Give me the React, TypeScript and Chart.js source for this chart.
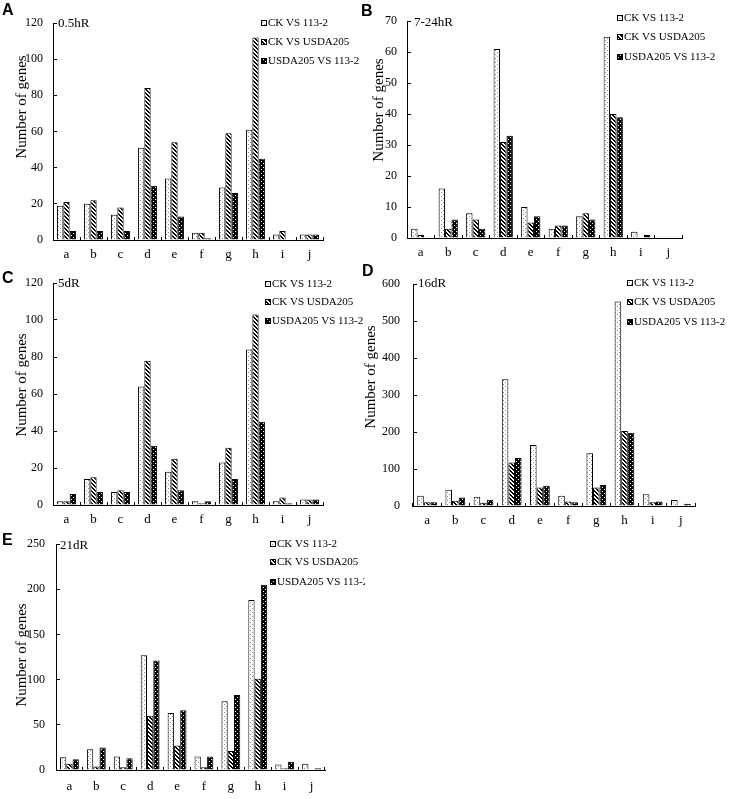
import React, { useEffect, useRef } from "react";
import { Chart, registerables } from "chart.js";
Chart.register(...registerables);

const categories = ["a", "b", "c", "d", "e", "f", "g", "h", "i", "j"];
const seriesNames = ["CK VS 113-2", "CK VS USDA205", "USDA205 VS 113-2"];

// A: 0.5hR
const h05_ck113 = [19, 20, 14, 51, 34, 4, 29, 61, 3, 3];
const h05_ckUsda = [21, 22, 18, 84, 54, 4, 59, 112, 5, 3];
const h05_usda113 = [5, 5, 5, 30, 13, 1, 26, 45, 0, 3];
// B: 7-24hR
const h724_ck113 = [3, 16, 8, 61, 10, 3, 7, 65, 2, 0];
const h724_ckUsda = [1, 3, 6, 31, 5, 4, 8, 40, 0, 0];
const h724_usda113 = [0, 6, 3, 33, 7, 4, 6, 39, 1, 0];
// C: 5dR
const d5_ck113 = [2, 14, 7, 64, 18, 2, 23, 84, 2, 3];
const d5_ckUsda = [2, 15, 8, 78, 25, 1, 31, 103, 4, 3];
const d5_usda113 = [6, 7, 7, 32, 8, 2, 14, 45, 1, 3];
// D: 16dR
const d16_ck113 = [28, 44, 25, 343, 165, 28, 143, 553, 32, 16];
const d16_ckUsda = [10, 14, 9, 118, 50, 12, 50, 203, 10, 0];
const d16_usda113 = [10, 23, 17, 130, 55, 10, 57, 198, 12, 6];
// E: 21dR
const d21_ck113 = [14, 23, 15, 127, 63, 15, 76, 188, 6, 7];
const d21_ckUsda = [7, 4, 3, 60, 27, 3, 21, 101, 2, 0];
const d21_usda113 = [12, 25, 13, 121, 66, 15, 83, 205, 9, 2];

const panelLetters = ["A", "B", "C", "D", "E"];
const panelSubtitles = ["0.5hR", "7-24hR", "5dR", "16dR", "21dR"];
const yMaxes = [120, 70, 120, 600, 250];
const ySteps = [20, 10, 20, 100, 50];
const yTitle = "Number of genes";

const SERIF = '"Liberation Serif", "Times New Roman", serif';

function makePattern(kind: number): CanvasPattern | string {
  const c = document.createElement("canvas");
  c.width = 4;
  c.height = 4;
  const g = c.getContext("2d");
  if (!g) return "#fff";
  if (kind === 0) {
    g.fillStyle = "#ffffff";
    g.fillRect(0, 0, 4, 4);
    g.fillStyle = "#8a8a8a";
    g.fillRect(0, 0, 1, 1);
    g.fillRect(2, 2, 1, 1);
  } else if (kind === 1) {
    g.fillStyle = "#ffffff";
    g.fillRect(0, 0, 4, 4);
    g.fillStyle = "#000000";
    for (let y = 0; y < 4; y++) {
      for (let x = 0; x < 4; x++) {
        const d = (((x - y) % 4) + 4) % 4;
        if (d === 0 || d === 1) g.fillRect(x, y, 1, 1);
      }
    }
  } else {
    g.fillStyle = "#000000";
    g.fillRect(0, 0, 4, 4);
    g.fillStyle = "#ffffff";
    g.fillRect(1, 1, 1, 1);
    g.fillRect(3, 3, 1, 1);
  }
  const p = g.createPattern(c, "repeat");
  return p || "#fff";
}

type PanelCfg = {
  idx: number;
  series: number[][];
  x: number;
  y: number;
  w: number;
  h: number;
  area: { l: number; r: number; t: number; b: number };
  yGap: number;
  xLabelOff: number;
  title: { x: number; y: number };
  sub: { x: number; y: number };
  legend: { bx: number; tx: number; ys: number[] };
  letter: { x: number; y: number };
};

const panels: PanelCfg[] = [
  {
    idx: 0,
    series: [h05_ck113, h05_ckUsda, h05_usda113],
    x: 0, y: 0, w: 365, h: 280,
    area: { l: 53, r: 323, t: 23, b: 240 },
    yGap: 10, xLabelOff: 15,
    title: { x: 22, y: 107 },
    sub: { x: 58, y: 24 },
    legend: { bx: 261, tx: 268, ys: [23, 42, 61] },
    letter: { x: 2, y: 4 },
  },
  {
    idx: 1,
    series: [h724_ck113, h724_ckUsda, h724_usda113],
    x: 365, y: 0, w: 365, h: 280,
    area: { l: 42, r: 317, t: 19, b: 238 },
    yGap: 10, xLabelOff: 15,
    title: { x: 14, y: 110 },
    sub: { x: 49, y: 23 },
    legend: { bx: 252, tx: 259, ys: [18, 37, 57] },
    letter: { x: 361, y: 5 },
  },
  {
    idx: 2,
    series: [d5_ck113, d5_ckUsda, d5_usda113],
    x: 0, y: 260, w: 365, h: 280,
    area: { l: 53, r: 323, t: 23, b: 245 },
    yGap: 10, xLabelOff: 15,
    title: { x: 22, y: 125 },
    sub: { x: 58, y: 24 },
    legend: { bx: 265, tx: 272, ys: [24, 42, 61] },
    letter: { x: 2, y: 272 },
  },
  {
    idx: 3,
    series: [d16_ck113, d16_ckUsda, d16_usda113],
    x: 355, y: 260, w: 375, h: 280,
    area: { l: 58, r: 340, t: 19, b: 246 },
    yGap: 13, xLabelOff: 15,
    title: { x: 16, y: 117 },
    sub: { x: 63, y: 24 },
    legend: { bx: 272, tx: 279, ys: [23, 42, 62] },
    letter: { x: 362, y: 265 },
  },
  {
    idx: 4,
    series: [d21_ck113, d21_ckUsda, d21_usda113],
    x: 0, y: 520, w: 365, h: 279,
    area: { l: 56, r: 325, t: 24, b: 250 },
    yGap: 11, xLabelOff: 17,
    title: { x: 22, y: 135 },
    sub: { x: 60, y: 26 },
    legend: { bx: 270, tx: 277, ys: [24, 42, 62] },
    letter: { x: 2, y: 534 },
  },
];

const decoPlugin = {
  id: "deco",
  afterDraw(chart: any, _args: any, o: any) {
    const ctx: CanvasRenderingContext2D = chart.ctx;
    ctx.save();
    ctx.fillStyle = "#000";
    // y title
    ctx.save();
    ctx.font = `15px ${SERIF}`;
    ctx.textAlign = "center";
    ctx.textBaseline = "middle";
    ctx.translate(o.title.x, o.title.y);
    ctx.rotate(-Math.PI / 2);
    ctx.fillText(o.titleText, 0, 0);
    ctx.restore();
    // subtitle
    ctx.font = `13px ${SERIF}`;
    ctx.textAlign = "left";
    ctx.textBaseline = "middle";
    ctx.fillText(o.subText, o.sub.x, o.sub.y);
    // legend
    ctx.font = `11px ${SERIF}`;
    chart.data.datasets.forEach((ds: any, i: number) => {
      const yy = o.legend.ys[i];
      ctx.fillStyle = ds.backgroundColor;
      ctx.fillRect(o.legend.bx, yy - 3, 6, 6);
      ctx.strokeStyle = "#000";
      ctx.lineWidth = 1;
      ctx.strokeRect(o.legend.bx + 0.5, yy - 2.5, 5, 5);
      ctx.fillStyle = "#000";
      ctx.fillText(ds.label, o.legend.tx, yy);
    });
    ctx.restore();
  },
};

function Panel({ cfg }: { cfg: PanelCfg }) {
  const ref = useRef<HTMLCanvasElement>(null);
  useEffect(() => {
    if (!ref.current) return;
    const patterns = [makePattern(0), makePattern(1), makePattern(2)];
    const xTickLen = -3;
    const yTickLen = -4;
    const chart = new Chart(ref.current, {
      type: "bar",
      data: {
        labels: categories,
        datasets: cfg.series.map((s, i) => ({
          label: seriesNames[i],
          data: s,
          backgroundColor: patterns[i] as any,
          borderColor: "#000",
          borderWidth: 1,
          categoryPercentage: 0.7,
          barPercentage: 1.0,
        })),
      },
      options: {
        animation: false,
        responsive: false,
        maintainAspectRatio: false,
        layout: {
          padding: {
            left: 0,
            top: cfg.area.t,
            right: cfg.w - cfg.area.r,
            bottom: 0,
          },
        },
        plugins: {
          legend: { display: false },
          tooltip: { enabled: false },
          deco: {
            title: cfg.title,
            titleText: yTitle,
            sub: cfg.sub,
            subText: panelSubtitles[cfg.idx],
            legend: cfg.legend,
          },
        } as any,
        scales: {
          x: {
            grid: {
              offset: true,
              drawOnChartArea: false,
              drawTicks: true,
              tickLength: xTickLen,
              color: "#000",
              lineWidth: 1,
            },
            border: { display: true, color: "#000", width: 1 },
            ticks: {
              color: "#000",
              font: { family: SERIF, size: 13 },
              padding: cfg.xLabelOff - xTickLen - 7.8,
              maxRotation: 0,
              autoSkip: false,
            },
            afterFit: (s: any) => {
              s.height = cfg.h - cfg.area.b;
            },
          },
          y: {
            min: 0,
            max: yMaxes[cfg.idx],
            grid: {
              drawOnChartArea: false,
              drawTicks: true,
              tickLength: yTickLen,
              color: "#000",
              lineWidth: 1,
            },
            border: { display: true, color: "#000", width: 1 },
            ticks: {
              stepSize: ySteps[cfg.idx],
              color: "#000",
              font: { family: SERIF, size: 12 },
              padding: cfg.yGap - yTickLen,
            },
            afterFit: (s: any) => {
              s.width = cfg.area.l;
            },
          },
        },
      },
      plugins: [decoPlugin as any],
    });
    return () => chart.destroy();
  }, []);
  return (
    <canvas
      ref={ref}
      width={cfg.w}
      height={cfg.h}
      style={{
        position: "absolute",
        left: cfg.x,
        top: cfg.y,
        width: cfg.w,
        height: cfg.h,
      }}
    />
  );
}

export default function App() {
  return (
    <div
      style={{
        position: "absolute",
        left: 0,
        top: 0,
        width: 730,
        height: 799,
        background: "#fff",
        overflow: "hidden",
      }}
    >
      {panels.map((p) => (
        <Panel key={p.idx} cfg={p} />
      ))}
      {panels.map((p) => (
        <div
          key={"l" + p.idx}
          style={{
            position: "absolute",
            left: p.letter.x,
            top: p.letter.y - 2,
            font: 'bold 16px "Liberation Sans", Arial, sans-serif',
            lineHeight: "16px",
            color: "#000",
          }}
        >
          {panelLetters[p.idx]}
        </div>
      ))}
    </div>
  );
}
